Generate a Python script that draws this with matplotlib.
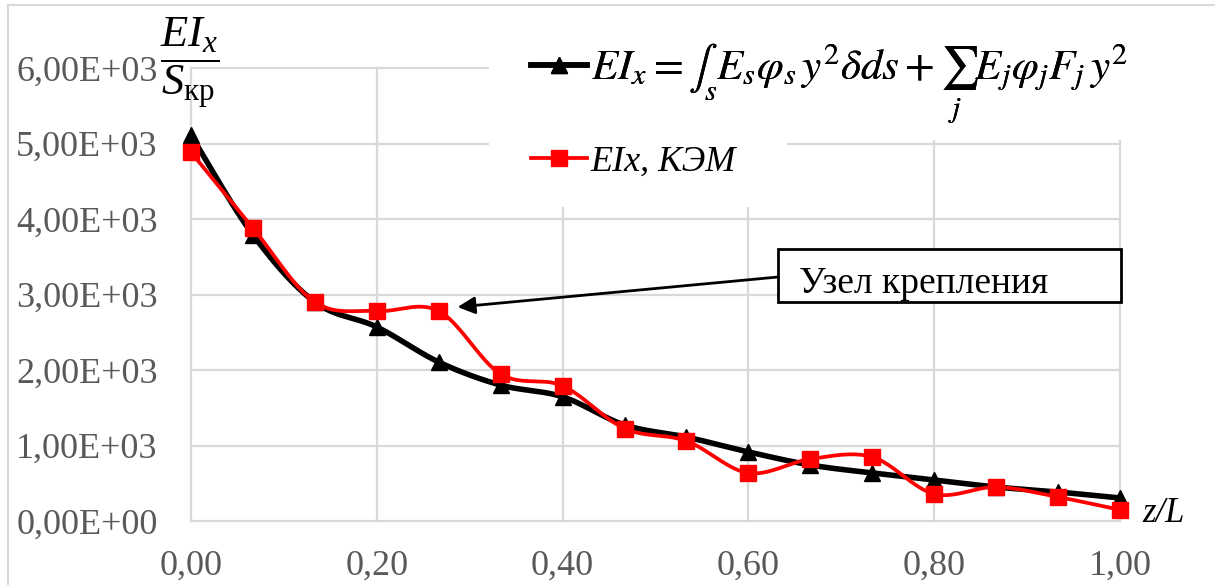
import numpy as np
import matplotlib
matplotlib.use("Agg")
import matplotlib.pyplot as plt
from matplotlib.lines import Line2D
from matplotlib.patches import Rectangle
from matplotlib.ticker import MultipleLocator, FuncFormatter

plt.rcParams['font.family'] = ['Liberation Serif', 'DejaVu Serif']
plt.rcParams['mathtext.fontset'] = 'custom'
plt.rcParams['mathtext.rm'] = 'Liberation Serif'
plt.rcParams['mathtext.it'] = 'Liberation Serif:italic'

# данные (z/L и EIx/Sкр)
z = [0.0, 0.0667, 0.1333, 0.2, 0.2667, 0.3333, 0.4, 0.4667,
     0.5333, 0.6, 0.6667, 0.7333, 0.8, 0.8667, 0.9333, 1.0]
ei_formula = [5110, 3790, 2900, 2570, 2105, 1800, 1645, 1272,
              1112, 915, 742, 636, 543, 450, 384, 305]
ei_fem = [4885, 3880, 2900, 2781, 2781, 1947, 1790, 1225,
          1060, 636, 821, 848, 358, 450, 318, 148]

label_formula = r'$EI_x = \int_s E_s \varphi_s\, y^2 \delta ds + \sum_j E_j \varphi_j F_j\, y^2$'
label_fem = 'EIx, КЭМ'
note_text = 'Узел крепления'

W, H = 1215, 585


def fx(px):
    return px / W


def fy(py):
    return 1 - py / H


def smooth(xs, ys, n=24):
    """Сглаживание как в Excel: кубические Безье через точки"""
    x = np.asarray(xs, float)
    y = np.asarray(ys, float)
    xp = np.concatenate([[x[0]], x, [x[-1]]])
    yp = np.concatenate([[y[0]], y, [y[-1]]])
    t = np.linspace(0, 1, n)[:, None]
    out = []
    for i in range(len(x) - 1):
        p0 = np.array([xp[i], yp[i]])
        p1 = np.array([xp[i + 1], yp[i + 1]])
        p2 = np.array([xp[i + 2], yp[i + 2]])
        p3 = np.array([xp[i + 3], yp[i + 3]])
        c1 = p1 + (p2 - p0) / 6
        c2 = p2 - (p3 - p1) / 6
        seg = ((1 - t) ** 3) * p1 + 3 * ((1 - t) ** 2) * t * c1 + 3 * (1 - t) * t ** 2 * c2 + t ** 3 * p2
        out.append(seg if i == 0 else seg[1:])
    out = np.vstack(out)
    return out[:, 0], out[:, 1]


fig = plt.figure(figsize=(W / 100, H / 100), dpi=100)
ax = fig.add_axes([fx(191), fy(521), fx(1120) - fx(191), fy(68) - fy(521)])

ax.set_xlim(0, 1)
ax.set_ylim(0, 6000)
ax.xaxis.set_major_locator(MultipleLocator(0.2))
ax.yaxis.set_major_locator(MultipleLocator(1000))
ax.xaxis.set_major_formatter(FuncFormatter(lambda v, p: f"{v:.2f}".replace('.', ',')))
ax.yaxis.set_major_formatter(FuncFormatter(lambda v, p: f"{v:.2E}".replace('.', ',')))
ax.tick_params(length=0, labelsize=26, labelcolor='#595959')
ax.tick_params(axis='y', pad=24)
ax.tick_params(axis='x', pad=21)
for s in ax.spines.values():
    s.set_visible(False)
ax.set_axisbelow(True)
ax.grid(True, color='#d9d9d9', linewidth=1.6)
for gl in ax.get_xgridlines() + ax.get_ygridlines():
    gl.set_clip_on(False)

# белый фон легенды поверх сетки
for (x0, y0, x1, y1) in [(489, 55, 1130, 140), (489, 139, 787, 207)]:
    ax.add_patch(Rectangle((fx(x0), fy(y1)), fx(x1) - fx(x0), fy(y0) - fy(y1),
                           transform=fig.transFigure, facecolor='white',
                           edgecolor='none', zorder=1, clip_on=False))

sx, sy = smooth(z, ei_formula)
ax.plot(sx, sy, color='black', linewidth=4, zorder=3, clip_on=False)
ax.plot(z, ei_formula, linestyle='none', marker='^', markersize=12,
        color='black', zorder=4, clip_on=False)

sx, sy = smooth(z, ei_fem)
ax.plot(sx, sy, color='#ff0000', linewidth=2.7, zorder=5, clip_on=False)
ax.plot(z, ei_fem, linestyle='none', marker='s', markersize=11.5,
        color='#ff0000', zorder=6, clip_on=False)

h1 = Line2D([], [], color='black', linewidth=4, marker='^', markersize=11)
h2 = Line2D([], [], color='#ff0000', linewidth=2.7, marker='s', markersize=11)
leg1 = fig.legend([h1], [label_formula], loc='center left',
                  bbox_to_anchor=(fx(531), fy(84)), frameon=False,
                  fontsize=31, handlelength=1.3, handletextpad=0.1,
                  borderpad=0, borderaxespad=0)
for t in leg1.get_texts():
    t.set_math_fontfamily('stix')
leg2 = fig.legend([h2], [label_fem], loc='center left',
                  bbox_to_anchor=(fx(531), fy(162)), frameon=False,
                  prop={'size': 26, 'style': 'italic'},
                  handlelength=1.55, handletextpad=0.1,
                  borderpad=0, borderaxespad=0)
fig.add_artist(leg1)

# подпись оси Y
fig.text(fx(190), fy(63), r'$\dfrac{EI_x}{S_{\mathrm{кр}}}$', fontsize=32,
         ha='center', va='center')
# подпись оси X
fig.text(fx(1142), fy(522), 'z/L', fontsize=25, style='italic',
         ha='left', va='baseline')

# выноска
fig.add_artist(Rectangle((fx(778), fy(302)), fx(1121) - fx(778), fy(249) - fy(302),
                         transform=fig.transFigure, facecolor='white',
                         edgecolor='black', linewidth=2))
fig.text(fx(799), fy(293), note_text, fontsize=27, ha='left', va='baseline')
ax.annotate('', xy=(0.287, 2834), xycoords='data',
            xytext=(fx(778), fy(277)), textcoords='figure fraction',
            arrowprops=dict(arrowstyle='-|>', color='black', lw=2,
                            mutation_scale=26, shrinkA=0, shrinkB=0))

# рамка диаграммы
fig.add_artist(Line2D([fx(8), fx(8)], [0, fy(5)], color='#d9d9d9', linewidth=1.5))
fig.add_artist(Line2D([fx(8), 1], [fy(5), fy(5)], color='#d9d9d9', linewidth=1.5))

fig.savefig('out.png', dpi=100)
